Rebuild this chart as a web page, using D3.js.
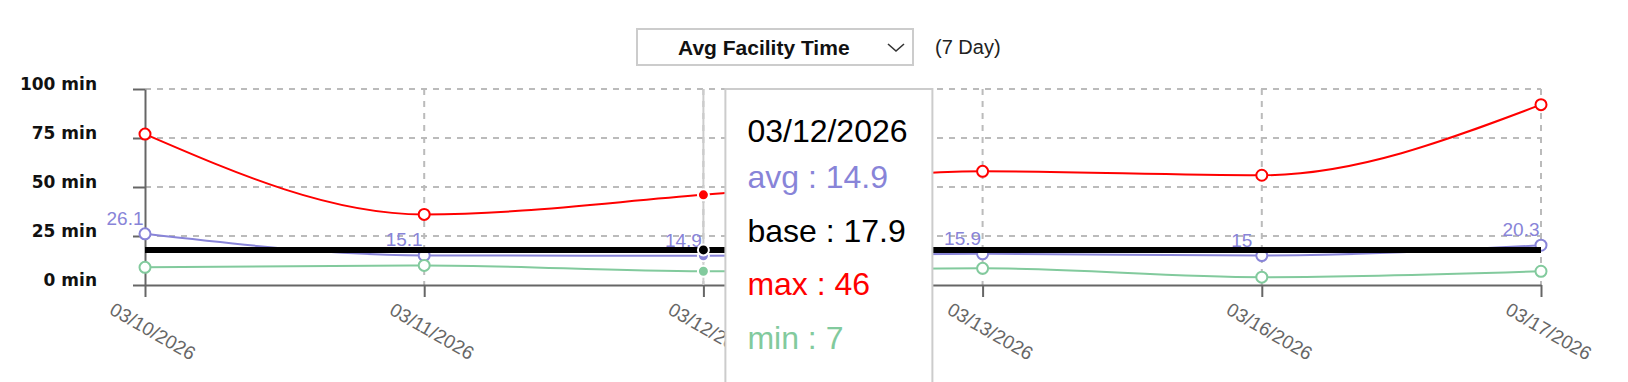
<!DOCTYPE html>
<html>
<head>
  <meta charset="UTF-8">
  <title>Avg Facility Time</title>
  <style>
    body { margin: 0; background: #fff; }
    svg { display: block; font-family: "Liberation Sans", Arial, sans-serif; }
  </style>
</head>
<body>
<svg></svg>
<script src="https://d3js.org/d3.v7.min.js"></script>
<script>
    let width = 1628, height = 382;

    // chart data
    var dates = ["03/10/2026", "03/11/2026", "03/12/2026", "03/13/2026", "03/16/2026", "03/17/2026"];
    var avgVals = [26.1, 15.1, 14.9, 15.9, 15, 20.3];
    var baseVals = [17.9, 17.9, 17.9, 17.9, 17.9, 17.9];
    var maxVals = [77, 36, 46, 58, 56, 92];
    var minVals = [9, 10, 7, 8.5, 4, 7];
    var yTicks = [0, 25, 50, 75, 100];
    var hoverIndex = 2;

    var svg = d3.select("svg").attr("width", width).attr("height", height);

    var x = d3.scalePoint().domain(dates).range([145, 1541]);
    var y = d3.scaleLinear().domain([0, 100]).range([285, 89]);

    // dropdown + period label
    var sel = svg.append("g");
    sel.append("rect").attr("x", 637).attr("y", 29).attr("width", 276).attr("height", 36)
        .attr("fill", "#fff").attr("stroke", "#ccc").attr("stroke-width", 2);
    sel.append("text").attr("x", 678).attr("y", 55).attr("font-size", 21).attr("font-weight", "bold")
        .attr("fill", "#111").text("Avg Facility Time");
    sel.append("path").attr("d", "M888,44 L896,51 L904,44").attr("fill", "none")
        .attr("stroke", "#333").attr("stroke-width", 1.6);
    svg.append("text").attr("x", 935).attr("y", 54).attr("font-size", 20).attr("fill", "#222").text("(7 Day)");

    // grid
    var grid = svg.append("g").attr("stroke", "#bbb").attr("stroke-width", 2).attr("stroke-dasharray", "6 6");
    grid.selectAll(".gy").data(yTicks.filter(d => d > 0)).enter().append("line")
        .attr("x1", x.range()[0]).attr("x2", x.range()[1])
        .attr("y1", d => y(d)).attr("y2", d => y(d));
    grid.selectAll(".gx").data(dates.slice(1)).enter().append("line")
        .attr("x1", d => x(d)).attr("x2", d => x(d))
        .attr("y1", y(100)).attr("y2", y(0));

    // axes
    var xAxis = svg.append("g").attr("transform", "translate(0," + y(0) + ")")
        .call(d3.axisBottom(x).tickSize(12).tickSizeOuter(0).tickFormat(""));
    xAxis.selectAll("line, path").attr("stroke", "#666").attr("stroke-width", 2);
    xAxis.selectAll(".tick").append("text")
        .attr("transform", "translate(4,52) rotate(30)")
        .attr("text-anchor", "middle").attr("font-size", 19).attr("fill", "#666")
        .text(d => d);

    var yAxis = svg.append("g").attr("transform", "translate(" + x.range()[0] + ",0)")
        .call(d3.axisLeft(y).tickValues(yTicks).tickSize(12).tickSizeOuter(0).tickFormat(""));
    yAxis.selectAll("line, path").attr("stroke", "#666").attr("stroke-width", 2);
    yAxis.selectAll(".tick").append("text")
        .attr("x", -48).attr("y", 0)
        .attr("text-anchor", "end").attr("font-size", 17).attr("font-weight", "bold").attr("fill", "#111")
        .style("font-family", "'DejaVu Sans', sans-serif")
        .text(d => d + " min");

    // hover cursor
    svg.append("line").attr("x1", x(dates[hoverIndex])).attr("x2", x(dates[hoverIndex]))
        .attr("y1", y(100)).attr("y2", y(0)).attr("stroke", "#ccc").attr("stroke-width", 2);

    var line = d3.line().x((d, i) => x(dates[i])).y(d => y(d)).curve(d3.curveMonotoneX);

    function drawSeries(vals, color, sw, dots) {
        svg.append("path").datum(vals).attr("d", line).attr("fill", "none")
            .attr("stroke", color).attr("stroke-width", sw);
        if (dots) {
            var pts = vals.map((v, i) => ({ v: v, i: i })).filter(p => p.i != hoverIndex);
            svg.selectAll(null).data(pts).enter().append("circle")
                .attr("cx", p => x(dates[p.i])).attr("cy", p => y(p.v)).attr("r", 5.5)
                .attr("fill", "#fff").attr("stroke", color).attr("stroke-width", 2);
        }
    }

    var avgColor = "#8884d8", minColor = "#82ca9d", maxColor = "#ff0000";

    drawSeries(avgVals, avgColor, 2, true);
    svg.selectAll(null).data(avgVals).enter().append("text")
        .attr("x", (d, i) => x(dates[i]) - 20).attr("y", d => y(d) - 9)
        .attr("text-anchor", "middle").attr("font-size", 19).attr("fill", avgColor)
        .text(d => d);
    drawSeries(baseVals, "#000", 6, false);
    drawSeries(maxVals, maxColor, 2, true);
    drawSeries(minVals, minColor, 2, true);

    // active dots
    var active = [[avgVals, avgColor], [baseVals, "#000"], [maxVals, maxColor], [minVals, minColor]];
    active.forEach(function (a) {
        svg.append("circle").attr("cx", x(dates[hoverIndex])).attr("cy", y(a[0][hoverIndex]))
            .attr("r", 5.5).attr("fill", a[1]).attr("stroke", "#fff").attr("stroke-width", 2);
    });

    // tooltip
    var tx = x(dates[hoverIndex]) + 22;
    var tip = svg.append("g").attr("transform", "translate(" + tx + ",89)");
    tip.append("rect").attr("width", 207).attr("height", 320)
        .attr("fill", "#fff").attr("stroke", "#ccc").attr("stroke-width", 2);
    tip.append("text").attr("x", 22).attr("y", 53).attr("font-size", 32).attr("fill", "#000").text(dates[hoverIndex]);
    var rows = [["avg", avgVals, avgColor], ["base", baseVals, "#000"], ["max", maxVals, maxColor], ["min", minVals, minColor]];
    tip.selectAll(null).data(rows).enter().append("text")
        .attr("x", 22).attr("y", (d, i) => 99 + i * 53.5)
        .attr("font-size", 32).attr("fill", d => d[2])
        .text(d => d[0] + " : " + d[1][hoverIndex]);
</script>
</body>
</html>
